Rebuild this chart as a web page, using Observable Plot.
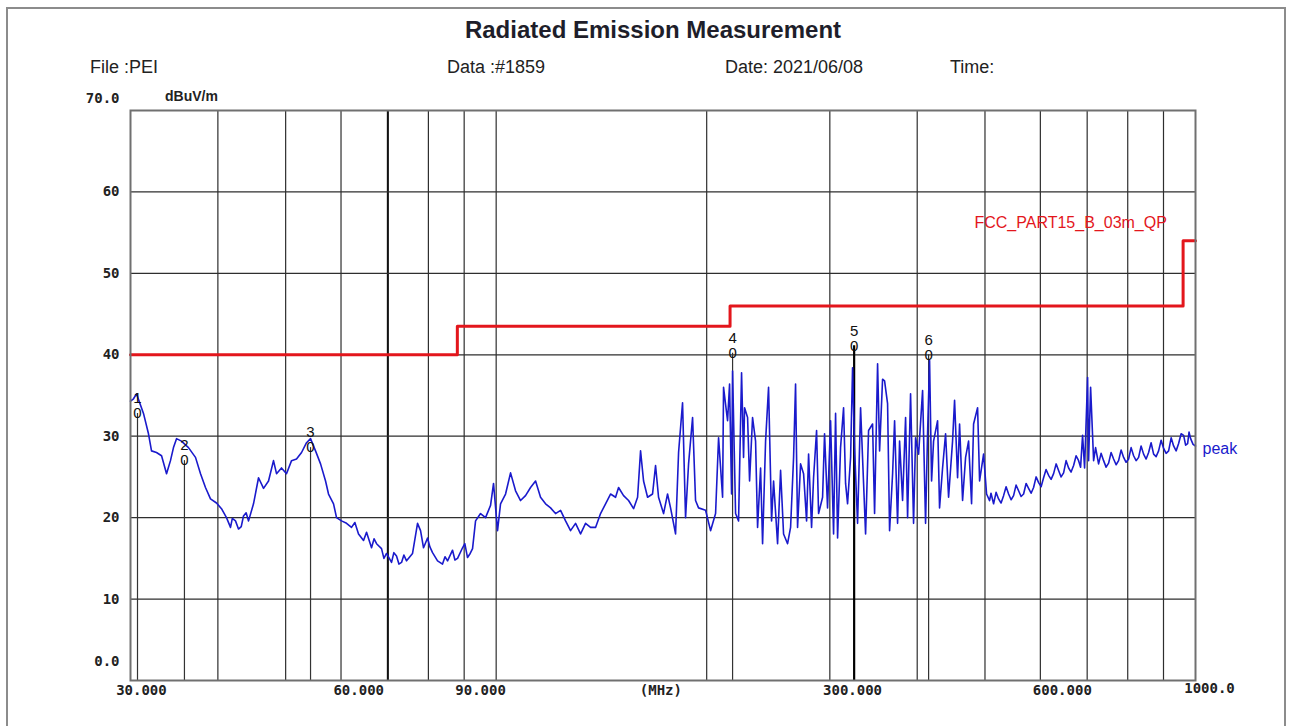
<!DOCTYPE html>
<html><head><meta charset="utf-8">
<script src="https://cdn.jsdelivr.net/npm/d3@7"></script>
<script src="https://cdn.jsdelivr.net/npm/@observablehq/plot@0.6"></script>
<style>
body{margin:0;background:#fff;}
#wrap{position:relative;width:1292px;height:726px;overflow:hidden;font-family:"Liberation Sans",Arial,sans-serif;background:#fff;}
#frame{position:absolute;left:6px;top:7px;width:1280px;height:780px;border:2px solid #8c8c8c;box-sizing:border-box;}
#title{position:absolute;left:0;width:1306px;top:16px;text-align:center;font-weight:bold;font-size:24px;color:#1e1e2a;}
.hd{position:absolute;top:57px;font-size:18px;color:#222;white-space:nowrap;}
#chart{position:absolute;left:0;top:90px;}
</style></head>
<body>
<div id="wrap">
  <div id="frame"></div>
  <div id="title">Radiated Emission Measurement</div>
  <div class="hd" style="left:90px">File :PEI</div>
  <div class="hd" style="left:447px">Data :#1859</div>
  <div class="hd" style="left:725px">Date: 2021/06/08</div>
  <div class="hd" style="left:950px">Time:</div>
  <div id="chart"></div>
</div>
<script>
// ---- data ----
// measured peak trace, [frequency MHz, level dBuV/m]
const traceSeg1 = [
 [30.0,34.3],[30.30,34.6],[30.60,35.2],[31.31,32.8],[31.83,30.3],[32.15,28.2],[32.68,28.0],[33.23,27.6],
 [33.78,25.4],[34.22,27.0],[34.56,28.6],[34.91,29.7],[35.48,29.4],[36.31,28.6],[37.16,27.4],[37.78,25.4],
 [38.40,23.7],[39.04,22.3],[39.82,21.8],[40.48,21.1],[41.15,20.0],[41.70,18.8],[41.95,19.9],[42.39,19.6],[42.81,18.6],
 [43.2,18.9],[43.52,20.2],[43.9,20.6],[44.25,19.6],[44.98,21.7],[45.73,24.9],[46.49,23.6],[47.26,24.5],[48.04,27.0],[48.52,25.4],
 [49.32,26.1],[50.14,25.4],[50.98,27.0],[51.82,27.2],[52.69,28.0],[53.56,29.2],[54.27,29.7],[55.17,28.2],
 [56.09,26.6],[57.02,24.5],[57.58,22.9],[58.54,21.7],[59.12,20.0],[60.10,19.6],[61.10,19.3],[62.11,18.8],[62.8,19.4],
 [63.56,18.0],[64.62,17.2],[65.26,18.2],[66.34,16.3],[66.9,17.4],[67.45,16.8],[68.56,16.2],[69.1,15.0],[69.70,15.6],[70.86,14.5],
 [71.4,15.7],[72.03,15.3],[72.6,14.3],[73.23,14.5],[73.8,15.4],[74.45,14.7]
];
const traceSeg2 = [
 [75.93,15.6],[77.19,19.3],[77.96,18.4],[78.73,16.3],[79.78,17.5],[80.4,16.4],[81.10,15.7],[82.45,14.7],[83.81,14.3],
 [84.5,15.2],[85.21,14.7],[86.62,16.0],[87.3,14.8],[88.06,15.0],[89.52,16.3],[90.2,16.8],[91.00,15.1],[91.8,15.6],[92.52,16.2],[93.44,19.6],[94.99,20.5],
 [96.56,20.0],[98.17,21.5],[99.14,24.2],[100.45,18.4],[101.45,21.7],[103.14,22.9],[104.85,25.5],[106.59,23.3],
 [108.36,22.1],[110.15,22.7],[111.99,23.7],[113.85,24.5],[115.73,22.5],[117.66,21.7],[119.62,21.2],[121.59,20.5],
 [123.62,20.9],[125.67,19.6],[127.75,18.4],[129.88,19.3],[132.04,18.0],[134.22,19.3],[136.45,18.8],[138.71,18.8],
 [141.02,20.5],[143.36,21.7],[145.73,22.9],[148.16,22.5],[149.63,23.7],[152.11,22.7],[154.64,22.1],[157.21,21.1],
 [159.30,22.5],[160.87,28.2],[162.47,24.5],[164.63,22.5],[167.35,22.9],[169.01,26.4],[170.69,22.5],[173.53,20.5],
 [175.82,22.9],[177.57,21.2],[180.52,18.0],[182.32,28.0],[184.72,34.1],[186.56,20.0],[188.42,26.6],[190.92,32.3],
 [192.80,22.1],[194.72,21.2]
];
const traceSeg3 = [
 [199.27,20.9],[202.57,18.4],[205.94,20.5],[207.98,29.8],[210.75,22.5],[211.42,36.0],[214.23,31.9],[215.65,36.4],
 [217.08,22.9],[217.79,38.0],[219.96,20.5],[222.13,19.6],[224.34,37.8],[225.82,27.4],[226.57,33.5],[228.82,32.3],
 [230.34,24.5],[232.61,32.3],[234.92,29.4],[236.48,18.8],[238.83,26.1],[240.41,16.8],[242.80,29.4],[245.19,36.0],
 [247.63,19.6],[249.27,24.5],[252.58,16.8],[255.09,25.8],[257.61,18.0],[261.03,16.8],[263.63,18.8],[266.25,27.4],
 [267.99,36.4],[269.76,18.8],[272.45,26.6],[275.16,25.4],[277.89,19.6],[279.73,27.8],[282.49,18.8],[284.36,24.9],
 [287.19,30.7],[289.09,20.5],[292.92,22.5],[294.83,30.3],[297.77,21.2],[300.73,31.9],[303.72,18.0],[305.73,32.8],
 [307.76,17.5],[310.79,28.6],[313.88,33.5],[315.96,24.2],[318.05,21.7],[321.22,27.4],[323.31,38.4],[325.45,28.6],
 [328.69,19.3],[331.96,33.5],[335.26,24.2],[337.48,18.0],[340.81,30.7],[345.33,31.5],[347.62,20.5],[351.08,38.9],
 [353.40,28.2],[356.88,37.0],[359.25,36.8],[362.82,34.0],[365.22,18.4],[368.86,25.4],[371.30,31.9],[374.96,19.3],
 [377.44,29.4],[381.19,22.1],[384.99,32.3],[387.53,20.0],[391.35,35.2],[395.24,19.3],[397.86,29.8],[401.82,27.8],
 [407.15,35.6],[411.16,19.3],[413.88,30.3],[416.62,39.3],[419.38,24.5],[422.15,29.4],[427.76,31.9],[430.55,21.2],
 [434.84,26.1],[439.16,30.3],[443.53,22.5],[449.38,29.4],[452.36,34.4],[456.86,24.9],[459.88,31.5],[464.46,22.1],
 [469.08,27.4],[473.70,29.4],[478.41,21.7],[481.58,31.5],[487.98,33.5],[491.21,24.5],[497.69,27.8],[502.64,22.9],
 [507.64,22.1]
];
const traceSeg4 = [
 [510.0,23.0],[514.38,21.7],[518.6,23.1],[522.89,22.3],[527.2,21.8],[531.59,22.7],[536.0,23.8],[540.43,22.9],
 [544.9,22.2],[549.37,22.7],[553.9,24.0],[558.51,23.3],[563.1,22.6],[567.80,22.9],[572.5,24.2],[577.19,23.6],
 [582.0,23.0],[586.79,23.7],[591.7,25.0],[596.56,24.3],[601.5,23.8],[606.42,24.9],[611.4,25.9],[616.51,25.2],
 [621.6,24.7],[626.77,25.4],[632.0,26.6],[637.13,25.8],[642.4,25.0],[647.73,25.5],[653.1,27.0],[658.51,26.1],
 [663.9,25.6],[669.40,26.4],[675.0,27.6],[680.54,27.0],[685.0,26.2],[689.51,30.1],[694.07,26.1],[700.98,37.2],
 [703.30,27.0],[707.95,36.0],[715.00,27.0],[719.66,28.6],[726.82,26.6],[732.8,27.9],[738.91,27.0],[745.0,26.2],
 [751.21,26.7],[757.4,28.0],[763.63,27.2],[770.0,26.5],[776.33,27.0],[782.8,28.3],[789.25,27.4],[795.7,26.8],
 [802.30,27.2],[809.0,28.6],[815.65,27.6],[822.4,27.0],[829.22,27.4],[836.0,28.8],[842.93,27.8],[850.0,27.2],
 [856.95,28.0],[864.0,29.2],[871.21,27.8],[878.4,27.5],[885.62,28.2],[893.0,29.5],[900.35,28.5],[907.8,27.9],
 [915.33,28.2],[923.0,29.8],[930.47,28.8],[938.2,28.2],[945.95,29.1],[953.8,30.3],[961.68,30.1],[968.0,28.9],
 [974.37,29.1],[979.0,30.5],[984.06,29.7],[992.0,29.0],[1000,28.8]
];
// FCC Part 15 B, 3 m, QP limit
const limitFreq  = [30, 88, 216, 960, 1000];
const limitLevel = [40, 43.5, 46, 54, 54];
// marked points
const markerId    = [1, 2, 3, 4, 5, 6];
const markerFreq  = [30.70, 35.83, 54.27, 217.8, 325.0, 415.3];
const markerLevel = [32.8, 27.0, 28.6, 40.2, 41.1, 40.0];
// grid and tick labels
const gridFreq  = [40, 50, 60, 70, 80, 90, 100, 200, 300, 400, 500, 600, 700, 800, 900];
const gridLevel = [10, 20, 30, 40, 50, 60];
const yTickMid  = [60, 50, 40, 30, 20, 10];
const xTickLabel = ["30.000", "60.000", "90.000", "(MHz)", "300.000", "600.000"];
const xTickAt    = [31.1, 63.6, 95.0, 172, 323.3, 645];

// ---- build tables ----
const trace = [...traceSeg1, ...traceSeg2, ...traceSeg3, ...traceSeg4].map(([f, v]) => ({f, v}));
const limit = limitFreq.map((f, i) => ({f, v: limitLevel[i]}));
const markers = markerId.map((id, i) => ({id, f: markerFreq[i], v: markerLevel[i]}));
const xticks = xTickLabel.map((t, i) => ({t, f: xTickAt[i]}));

const mono = "'DejaVu Sans Mono', monospace";
const sans = "'Liberation Sans', Arial, sans-serif";

const chart = Plot.plot({
  width: 1292, height: 636,
  marginLeft: 130, marginRight: 97, marginTop: 20, marginBottom: 46,
  x: {type: "log", domain: [30, 1000], axis: null},
  y: {domain: [0, 70], axis: null},
  style: {background: "transparent", overflow: "visible", fontFamily: sans},
  marks: [
    Plot.ruleX(gridFreq, {stroke: "#2e2e2e", strokeWidth: 1.2}),
    Plot.ruleX([70], {stroke: "#111", strokeWidth: 2}),
    Plot.ruleY(gridLevel, {stroke: "#2e2e2e", strokeWidth: 1.2}),
    Plot.ruleX(markers, {x: "f", y1: 0, y2: "v", stroke: d => d.id === 5 ? "#000" : "#333",
      strokeWidth: d => d.id === 5 ? 2.2 : 1.2}),
    Plot.line(limit, {x: "f", y: "v", curve: "step-after", stroke: "#e3161c", strokeWidth: 3}),
    Plot.line(trace, {x: "f", y: "v", stroke: "#1a1acc", strokeWidth: 1.6}),
    Plot.text(markers, {x: "f", y: "v", text: () => "0", fill: "#111", fontSize: 15, fontFamily: sans}),
    Plot.text(markers, {x: "f", y: "v", text: d => String(d.id), fill: "#111", fontSize: 15, fontFamily: sans, dy: -15}),
    Plot.frame({stroke: "#707070", strokeWidth: 2}),
    // y tick labels
    Plot.text(yTickMid, {x: 30, y: d => d, text: d => String(d), textAnchor: "end", dx: -11,
      fontFamily: mono, fontWeight: "bold", fontSize: 14, fill: "#222"}),
    Plot.text([70], {x: 30, y: d => d, text: () => "70.0", textAnchor: "end", dx: -11, dy: -12,
      fontFamily: mono, fontWeight: "bold", fontSize: 14, fill: "#222"}),
    Plot.text([0], {x: 30, y: d => d, text: () => "0.0", textAnchor: "end", dx: -11, dy: -19,
      fontFamily: mono, fontWeight: "bold", fontSize: 14, fill: "#222"}),
    // x tick labels
    Plot.text(xticks, {x: "f", y: 0, text: "t", dy: 10, fontFamily: mono, fontWeight: "bold", fontSize: 14, fill: "#222"}),
    Plot.text(["1000.0"], {x: 1000, y: 0, text: d => d, dy: 8, dx: 14, fontFamily: mono, fontWeight: "bold", fontSize: 14, fill: "#222"}),
    // unit label
    Plot.text(["dBuV/m"], {frameAnchor: "top-left", text: d => d, dx: 61, dy: -14, lineAnchor: "middle",
      textAnchor: "middle", fontWeight: "bold", fontSize: 14, fill: "#222"}),
    // limit name
    Plot.text(["FCC_PART15_B_03m_QP"], {x: 663, y: 56.2, text: d => d, fill: "#e3161c", fontSize: 16}),
    // trace name
    Plot.text(["peak"], {x: 1000, y: 28.5, text: d => d, textAnchor: "start", dx: 7, fill: "#1a1acc", fontSize: 16})
  ]
});
document.getElementById("chart").appendChild(chart);
</script>
</body></html>
